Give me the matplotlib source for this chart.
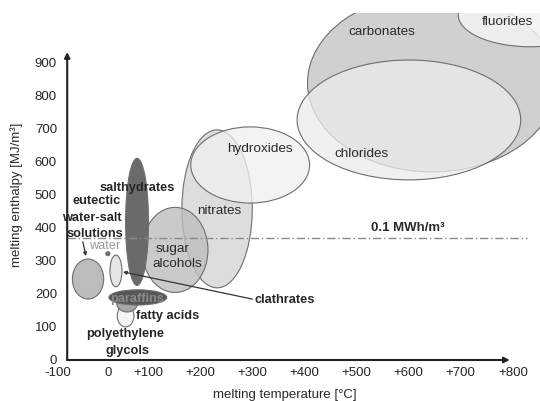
import matplotlib
matplotlib.use("Agg")
import matplotlib.pyplot as plt
from matplotlib.patches import Ellipse

plt.rcParams['font.family'] = ['Liberation Sans', 'DejaVu Sans']

# ---- data: melting temperature range [°C] and melting enthalpy range [MJ/m3]
materials = ["carbonates", "chlorides", "fluorides", "nitrates", "hydroxides",
             "sugar alcohols", "salthydrates", "eutectic", "clathrates", "water",
             "polyethylene glycols", "fatty acids", "paraffins"]
t_lo = [406, 386, 695, 165, 182, 89, 57, -45, 27, 19, 41, 40, 25]
t_hi = [884, 815, 971, 300, 410, 215, 101, 15, 50, 27, 73, 80, 136]
e_lo = [568, 544, 946, 218, 474, 204, 225, 184, 221, 315, 100, 145, 166]
e_hi = [1106, 906, 1139, 695, 704, 461, 609, 305, 317, 327, 166, 199, 212]

# styles (fill colour, alpha)
fills = ["#d0d0d0", "#ececec", "#f3f3f3", "#d8d8d8", "#f0f0f0",
         "#bdbdbd", "#6a6a6a", "#bcbcbc", "#e6e6e6", "#6e6e6e",
         "#f4f4f4", "#a6a6a6", "#575757"]
alphas = [1.0, 0.75, 0.85, 0.85, 0.75, 0.8, 1.0, 1.0, 1.0, 1.0, 1.0, 1.0, 1.0]

xtick_pos = [-73, 23, 100, 200, 300, 400, 500, 600, 700, 800]
xtick_labels = ["-100", "0", "+100", "+200", "+300", "+400", "+500", "+600", "+700", "+800"]
ytick_vals = [0, 100, 200, 300, 400, 500, 600, 700, 800, 900]

threshold = 368          # 0.1 MWh/m3 line
axis_origin_x = -55

fig = plt.figure(figsize=(5.4, 4.01), dpi=100)
ax = fig.add_axes([50/540, 41/401, 490/540, 347/401])
ax.set_xlim(-88, 852)
ax.set_ylim(0, 1048)
for s in ax.spines.values():
    s.set_visible(False)

for i, name in enumerate(materials):
    cx = (t_lo[i] + t_hi[i]) / 2
    cy = (e_lo[i] + e_hi[i]) / 2
    w = t_hi[i] - t_lo[i]
    h = e_hi[i] - e_lo[i]
    ax.add_patch(Ellipse((cx, cy), w, h, facecolor=fills[i], alpha=alphas[i],
                         edgecolor="none", zorder=2 + i * 0.01))
    ax.add_patch(Ellipse((cx, cy), w, h, facecolor="none",
                         edgecolor="#6e6e6e", lw=0.8, zorder=2 + i * 0.01 + 0.005))

# threshold line
ax.plot([axis_origin_x, 827], [threshold, threshold], color="#8a8a8a", lw=1.0,
        ls=(0, (6, 2, 1, 2)), zorder=4)
ax.text(599, 399, "0.1 MWh/m³", ha="center", va="center", fontsize=9.5,
        fontweight="bold", color="#2a2a2a", zorder=6)

# axes arrows
ax.annotate("", xy=(794, 0), xytext=(axis_origin_x, 0), annotation_clip=False,
            arrowprops=dict(arrowstyle="-|>", lw=1.5, color="#222222",
                            mutation_scale=8, shrinkA=0, shrinkB=0), zorder=7)
ax.annotate("", xy=(axis_origin_x, 930), xytext=(axis_origin_x, 0), annotation_clip=False,
            arrowprops=dict(arrowstyle="-|>", lw=1.5, color="#222222",
                            mutation_scale=8, shrinkA=0, shrinkB=0), zorder=7)

ax.set_xticks(xtick_pos, xtick_labels)
ax.set_yticks(ytick_vals, [str(v) for v in ytick_vals])
ax.tick_params(axis="x", length=0, pad=5, labelsize=9.5, labelcolor="#262626")
ax.tick_params(axis="y", length=0, pad=-5, labelsize=9.5, labelcolor="#262626")

# labels
bold = dict(fontsize=9.2, fontweight="bold", color="#262626", ha="center",
            va="center", zorder=8)
norm = dict(fontsize=9.7, color="#2a2a2a", ha="center", va="center", zorder=8)
ax.text(79, 520, "salthydrates", **bold)
ax.text(2, 480, "eutectic", **bold)
ax.text(-7, 429, "water-salt", **bold)
ax.text(-2, 381, "solutions", **bold)
ax.text(16, 345, "water", fontsize=9.2, color="#9a9a9a", ha="center", va="center", zorder=8)
ax.text(79, 184, "paraffins", fontsize=9.2, fontweight="bold", color="#8a8a8a",
        ha="center", va="center", zorder=8)
ax.text(138, 133, "fatty acids", **bold)
ax.text(56, 79, "polyethylene", **bold)
ax.text(60, 27, "glycols", **bold)
ax.text(305, 182, "clathrates", fontsize=9.2, fontweight="bold", color="#262626",
        ha="left", va="center", zorder=8)
ax.text(148, 335, "sugar", **norm)
ax.text(156, 290, "alcohols", **norm)
ax.text(236, 450, "nitrates", **norm)
ax.text(315, 638, "hydroxides", **norm)
ax.text(549, 991, "carbonates", **norm)
ax.text(510, 622, "chlorides", **norm)
ax.text(790, 1021, "fluorides", **norm)

# pointer lines
ax.annotate("", xy=(-19, 314), xytext=(-25, 357),
            arrowprops=dict(arrowstyle="-|>", lw=0.9, color="#333333",
                            mutation_scale=5, shrinkA=0, shrinkB=0), zorder=8)
ax.annotate("", xy=(52, 266), xytext=(300, 184),
            arrowprops=dict(arrowstyle="-|>", lw=0.9, color="#333333",
                            mutation_scale=5, shrinkA=0, shrinkB=0), zorder=8)

fig.text(285/540, 1 - 395/401, "melting temperature [°C]", ha="center", va="center",
         fontsize=9.5, color="#2a2a2a")
fig.text(17/540, 1 - 195/401, "melting enthalpy [MJ/m³]", ha="center", va="center",
         rotation=90, fontsize=9.5, color="#2a2a2a")

fig.savefig("out.png", dpi=100)
